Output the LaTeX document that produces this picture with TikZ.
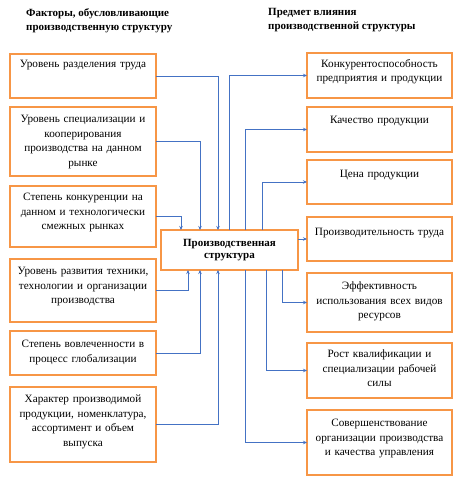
\documentclass[tikz,border=0pt]{standalone}
\usepackage{fontspec}
\setmainfont{Liberation Serif}
\usetikzlibrary{arrows.meta,positioning}
\definecolor{boxorange}{HTML}{F79646}
\definecolor{linkblue}{HTML}{4472C4}
\begin{document}
\begin{tikzpicture}[x=1pt,y=-1pt,
  fbox/.style={rectangle, draw=boxorange, line width=2pt, fill=white, outer sep=0pt, inner sep=0pt},
  txt/.style={text width=140pt, align=center, inner sep=3pt, font=\fontsize{11.2}{14.5}\selectfont},
  ttl/.style={align=left, anchor=north west, inner sep=0pt, font=\fontsize{11}{14}\selectfont\bfseries},
  link/.style={draw=linkblue, line width=0.8pt, -{Stealth[length=4pt,width=3.5pt]}}]
\useasboundingbox (0,0) rectangle (458,477);

% Titles
\node[ttl] (tleft) at (26,8) {Факторы, обусловливающие\\производственную структуру};
\node[ttl] (tright) at (268,8) {Предмет влияния\\производственной структуры};

% Factors
\node[fbox, minimum width=146, minimum height=44] (L1) at (83,76) {};
\node[fbox, minimum width=146, minimum height=69] (L2) at (83,141.5) {};
\node[fbox, minimum width=146, minimum height=61] (L3) at (83,216.5) {};
\node[fbox, minimum width=146, minimum height=63] (L4) at (83,290.5) {};
\node[fbox, minimum width=146, minimum height=44] (L5) at (83,353) {};
\node[fbox, minimum width=146, minimum height=75] (L6) at (83,424.5) {};
\node[txt, below=3pt of L1.north] (tL1) {Уровень разделения труда};
\node[txt, below=5pt of L2.north] (tL2) {Уровень специализации и\\кооперирования\\производства на данном\\рынке};
\node[txt, below=4pt of L3.north] (tL3) {Степень конкуренции на\\данном и технологически\\смежных рынках};
\node[txt, below=5pt of L4.north] (tL4) {Уровень развития техники,\\технологии и организации\\производства};
\node[txt, below=6pt of L5.north] (tL5) {Степень вовлеченности в\\процесс глобализации};
\node[txt, below=5pt of L6.north] (tL6) {Характер производимой\\продукции, номенклатура,\\ассортимент и объем\\выпуска};

% Production structure
\node[fbox, minimum width=137, minimum height=40, font=\fontsize{11}{12.5}\selectfont\bfseries, align=center] (prod) at (229.5,250) {Производственная\\структура};

% Results
\node[fbox, minimum width=145, minimum height=45] (R1) at (379.5,75.5) {};
\node[fbox, minimum width=145, minimum height=45] (R2) at (379.5,129.5) {};
\node[fbox, minimum width=145, minimum height=44] (R3) at (379.5,182) {};
\node[fbox, minimum width=145, minimum height=44] (R4) at (379.5,239) {};
\node[fbox, minimum width=145, minimum height=59] (R5) at (379.5,302.5) {};
\node[fbox, minimum width=145, minimum height=55] (R6) at (379.5,370.5) {};
\node[fbox, minimum width=145, minimum height=65] (R7) at (379.5,442.5) {};
\node[txt, below=3pt of R1.north] (tR1) {Конкурентоспособность\\предприятия и продукции};
\node[txt, below=6pt of R2.north] (tR2) {Качество продукции};
\node[txt, below=7pt of R3.north] (tR3) {Цена продукции};
\node[txt, below=8pt of R4.north] (tR4) {Производительность труда};
\node[txt, below=6pt of R5.north] (tR5) {Эффективность\\использования всех видов\\ресурсов};
\node[txt, below=4pt of R6.north] (tR6) {Рост квалификации и\\специализации рабочей\\силы};
\node[txt, below=6pt of R7.north] (tR7) {Совершенствование\\организации производства\\и качества управления};

% Factors -> structure
\draw[link] (L1.east) -| ([xshift=-11.5pt]prod.north);
\draw[link] (L2.east) -| ([xshift=-29.5pt]prod.north);
\draw[link] (L3.east) -| ([xshift=-48.5pt]prod.north);
\draw[link] (L4.east) -| ([xshift=-41.5pt]prod.south);
\draw[link] (L5.east) -| ([xshift=-29.5pt]prod.south);
\draw[link] (L6.east) -| ([xshift=-11.5pt]prod.south);

% Structure -> results
\draw[link] ([xshift=-0.5pt]prod.north) |- (R1.west);
\draw[link] ([xshift=15.5pt]prod.north) |- (R2.west);
\draw[link] ([xshift=32.5pt]prod.north) |- (R3.west);
\draw[link] (prod.east |- R4.west) -- (R4.west);
\draw[link] ([xshift=52.5pt]prod.south) |- (R5.west);
\draw[link] ([xshift=36.5pt]prod.south) |- (R6.west);
\draw[link] ([xshift=15.5pt]prod.south) |- (R7.west);

\end{tikzpicture}
\end{document}
